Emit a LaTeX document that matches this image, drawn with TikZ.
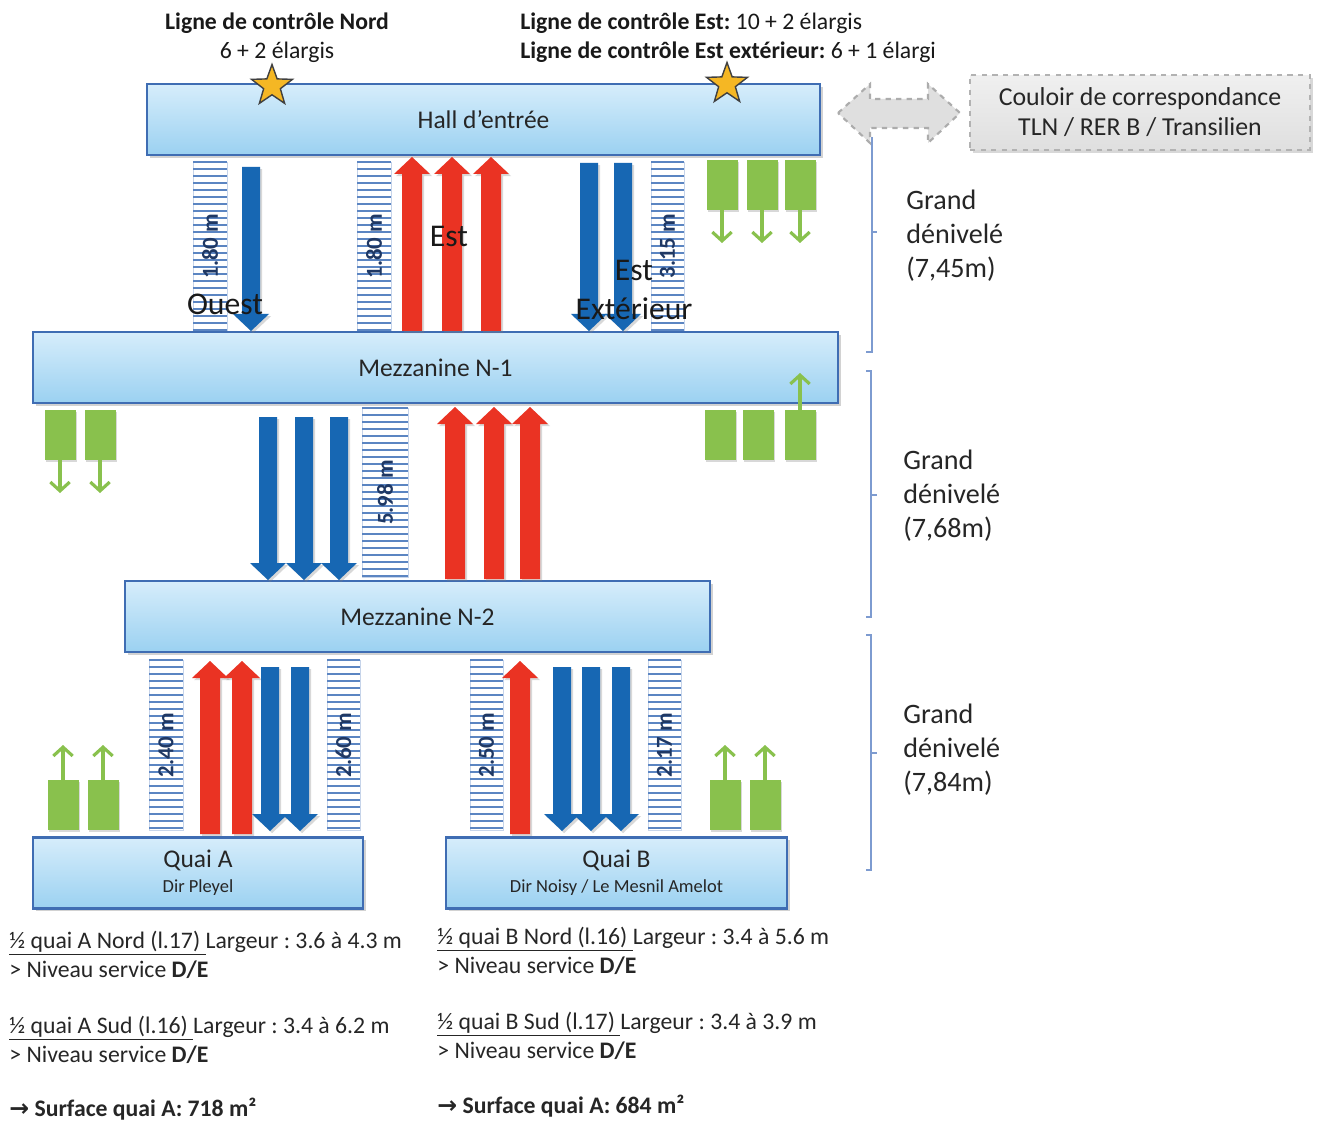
\documentclass[tikz,border=0pt]{standalone}
\usepackage{fontspec}
\setmainfont{Carlito}
\newfontfamily\symbfont{DejaVu Sans}
\usetikzlibrary{shapes.geometric,shadows,arrows.meta}
\frenchspacing

\definecolor{boxtop}{HTML}{D6EDFB}
\definecolor{boxbot}{HTML}{9BD1F1}
\definecolor{boxline}{HTML}{3F6DB3}
\definecolor{downblue}{HTML}{1767B3}
\definecolor{upred}{HTML}{EA3323}
\definecolor{liftgreen}{HTML}{89C14D}
\definecolor{stairline}{HTML}{5B85C2}
\definecolor{stairtext}{HTML}{1F3864}
\definecolor{bracecol}{HTML}{7D9BD0}
\definecolor{stargold}{HTML}{F5B724}

\tikzset{
  level/.style={draw=boxline, line width=1.2pt, top color=boxtop, bottom color=boxbot,
    drop shadow={opacity=0.35, shadow xshift=1.5pt, shadow yshift=-1.5pt},
    font=\fontsize{14.5}{17}\selectfont, text=black!85, inner sep=0pt},
  head/.style={font=\fontsize{13.5}{16.5}\selectfont, text=black!90, inner sep=0pt},
  note/.style={font=\fontsize{13.5}{16}\selectfont, text=black!85, inner sep=0pt, anchor=west},
  flow/.style={font=\fontsize{18}{22}\selectfont, text=black!90, inner sep=0pt},
  drop/.style={font=\fontsize{16}{19.3}\selectfont, text=black!85, inner sep=0pt, anchor=west, align=left},
  lift/.style={fill=liftgreen, drop shadow={opacity=0.3, shadow xshift=1pt, shadow yshift=-1pt}},
  liftmove/.style={liftgreen, line width=1.8pt, -{Straight Barb[length=5pt,width=11pt]}},
  brace/.style={bracecol, line width=1pt},
  passage/.style={fill=gray!25, draw=gray!65, dashed, line width=1.2pt},
  blockshadow/.style={drop shadow={opacity=0.3, shadow xshift=1.2pt, shadow yshift=-1.2pt}},
  stairlabel/.style={rotate=90, font=\bfseries\fontsize{13}{15}\selectfont, text=stairtext, inner sep=0pt},
}

% block arrows: x, tail, tip
\newcommand\goingdown[3]{%
  \fill[downblue, blockshadow] (#1-9,#2) -- (#1+9,#2) -- (#1+9,#3-17) -- (#1+18,#3-17)
    -- (#1,#3) -- (#1-18,#3-17) -- (#1-9,#3-17) -- cycle;}
\newcommand\goingup[3]{%
  \fill[upred, blockshadow] (#1-10,#2) -- (#1+10,#2) -- (#1+10,#3+17) -- (#1+18,#3+17)
    -- (#1,#3) -- (#1-18,#3+17) -- (#1-10,#3+17) -- cycle;}
% stairs: x1, y1, x2, y2, width label, name
\newcommand\stairs[6]{%
  \fill[white] (#1,#2) rectangle (#3,#4);
  \draw[stairline!35, line width=0.5pt] (#1,#2) rectangle (#3,#4);
  \pgfmathtruncatemacro\nsteps{(#4-#2)/7}
  \foreach \k in {0,...,\nsteps}
    \draw[stairline, line width=0.7pt] (#1,#2+7*\k) -- (#3,#2+7*\k);
  \node[stairlabel] (#6) at ({(#1+#3)/2},{(#2+#4)/2}) {#5};}
% lift car: centre x, top
\newcommand\liftcar[2]{\fill[lift] (#1-15.5,#2) rectangle (#1+15.5,#2+50);}

\begin{document}
\begin{tikzpicture}[x=0.02cm, y=-0.02cm]
\useasboundingbox[fill=white] (0,0) rectangle (1317,1121);

% control lines
\node[head, align=center] (nord) at (277,38) {\textbf{Ligne de contrôle Nord}\\6 + 2 élargis};
\node[head, align=left, anchor=west] (est) at (520,38)
  {\textbf{Ligne de contrôle Est:} 10 + 2 élargis\\\textbf{Ligne de contrôle Est extérieur:} 6 + 1 élargi};

% levels
\node[level, minimum width=13.46cm, minimum height=1.42cm] (hall) at (483.5,119.5) {Hall d’entrée};
\node[level, minimum width=16.1cm, minimum height=1.42cm] (mez1) at (435.5,367.5) {Mezzanine N-1};
\node[level, minimum width=11.7cm, minimum height=1.42cm] (mez2) at (417.5,616.5) {Mezzanine N-2};
\node[level, minimum width=6.6cm, minimum height=1.42cm, align=center] (quaiA) at (198,873)
  {Quai A\\[-3pt]{\fontsize{10.5}{12}\selectfont Dir Pleyel}};
\node[level, minimum width=6.82cm, minimum height=1.42cm, align=center] (quaiB) at (616.5,873)
  {Quai B\\[-3pt]{\fontsize{10.5}{12}\selectfont Dir Noisy / Le Mesnil Amelot}};

\node[star, star points=5, star point ratio=2.45, minimum size=0.86cm, inner sep=0pt,
  fill=stargold, draw=black!75, line width=0.8pt] (starN) at (272,86) {};
\node[star, star points=5, star point ratio=2.45, minimum size=0.86cm, inner sep=0pt,
  fill=stargold, draw=black!75, line width=0.8pt] (starE) at (727,84) {};

% corridor
\filldraw[passage] (838,113) -- (870,84) -- (870,99) -- (928,99) -- (928,84) -- (960,113)
  -- (928,143) -- (928,128) -- (870,128) -- (870,143) -- cycle;
\node[draw=gray!60, dashed, line width=1pt, top color=gray!12, bottom color=gray!25,
  drop shadow={opacity=0.3, shadow xshift=1.5pt, shadow yshift=-1.5pt},
  minimum width=6.8cm, minimum height=1.5cm, align=center, inner sep=0pt,
  font=\fontsize{14.7}{17}\selectfont, text=black!85] (couloir) at (1140,112.5)
  {Couloir de correspondance\\TLN / RER B / Transilien};

% hall -> N-1
\stairs{193}{162}{227}{330}{1.80 m}{s1}
\stairs{357}{162}{391}{330}{1.80 m}{s2}
\stairs{651}{162}{684}{330}{3.15 m}{s3}
\goingdown{251}{167}{331}
\foreach \x in {412,452,491} \goingup{\x}{331}{157};
\foreach \x in {589,623} \goingdown{\x}{163}{331};
\foreach \x in {722,762,800} {
  \liftcar{\x}{160}
  \draw[liftmove] (\x,210) -- (\x,243);
}

% N-1 -> N-2
\stairs{362}{408}{408}{577}{5.98 m}{s4}
\foreach \x in {268,304,339} \goingdown{\x}{417}{580};
\foreach \x in {455,494,530} \goingup{\x}{579}{407};
\foreach \x in {60,100} {
  \liftcar{\x}{410}
  \draw[liftmove] (\x,460) -- (\x,493);
}
\foreach \x in {720,758,800} \liftcar{\x}{410};
\draw[liftmove] (800,410) -- (800,373);

% N-2 -> quais
\stairs{149}{660}{183}{830}{2.40 m}{s5}
\stairs{327}{660}{360}{830}{2.60 m}{s6}
\stairs{470}{660}{503}{830}{2.50 m}{s7}
\stairs{648}{660}{681}{830}{2.17 m}{s8}
\foreach \x in {210,242,520} \goingup{\x}{834}{661};
\foreach \x in {270,300,562,591,621} \goingdown{\x}{667}{831};
\foreach \x in {63,103,725,765} {
  \liftcar{\x}{780}
  \draw[liftmove] (\x,780) -- (\x,745);
}

% directions
\node[flow] (ouest) at (225,304) {Ouest};
\node[flow] (estN) at (449,236) {Est};
\node[flow, align=center] (estX) at (634,290) {Est\\Extérieur};

% height differences
\draw[brace] (872,137) -- (872,352) -- (866,352) (872,232) -- (877,232);
\draw[brace] (866,371) -- (871,371) -- (871,617) -- (866,617) (871,495) -- (877,495);
\draw[brace] (866,635) -- (871,635) -- (871,870) -- (866,870) (871,753) -- (877,753);
\node[drop] (d1) at (906,236) {Grand\\dénivelé\\(7,45m)};
\node[drop] (d2) at (903,496) {Grand\\dénivelé\\(7,68m)};
\node[drop] (d3) at (903,750) {Grand\\dénivelé\\(7,84m)};

% platform notes
\node[note] (an) at (9,943) {\underline{½ quai A Nord (l.17) }Largeur : 3.6 à 4.3 m};
\node[note] (ans) at (9,970) {> Niveau service \textbf{D/E}};
\node[note] (as) at (9,1028) {\underline{½ quai A Sud (l.16) }Largeur : 3.4 à 6.2 m};
\node[note] (ass) at (9,1055) {> Niveau service \textbf{D/E}};
\node[note] (asurf) at (9,1109) {\textbf{{\symbfont →} Surface quai A: 718 m²}};
\node[note] (bn) at (437,939) {\underline{½ quai B Nord (l.16) }Largeur : 3.4 à 5.6 m};
\node[note] (bns) at (437,966) {> Niveau service \textbf{D/E}};
\node[note] (bs) at (437,1024) {\underline{½ quai B Sud (l.17) }Largeur : 3.4 à 3.9 m};
\node[note] (bss) at (437,1051) {> Niveau service \textbf{D/E}};
\node[note] (bsurf) at (437,1106) {\textbf{{\symbfont →} Surface quai A: 684 m²}};
\end{tikzpicture}
\end{document}
